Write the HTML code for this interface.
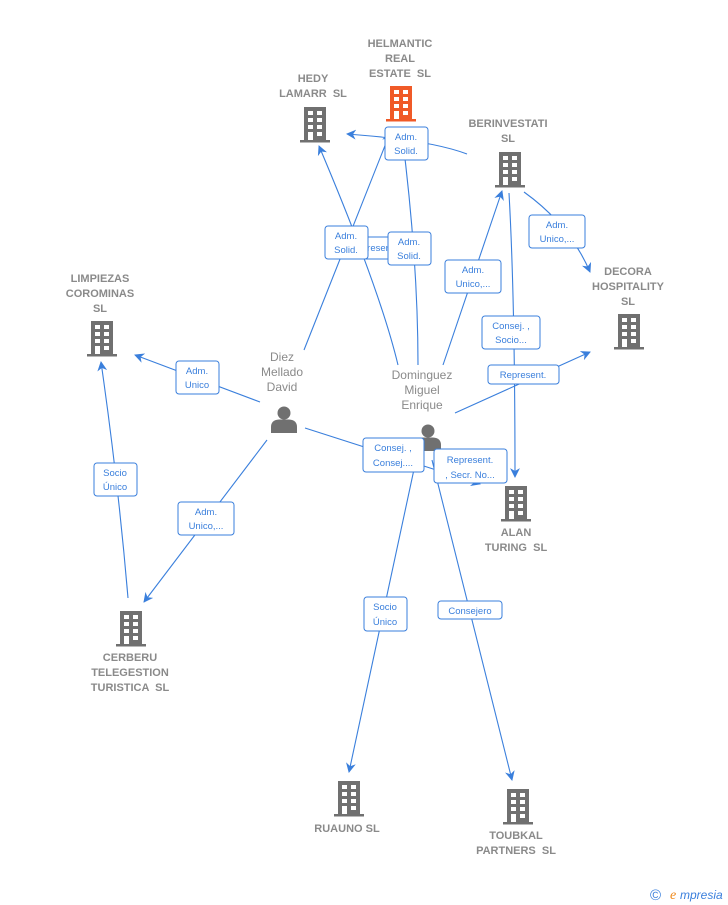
<!DOCTYPE html>
<html><head><meta charset="utf-8"><style>
html,body{margin:0;padding:0;background:#fff;}
svg{display:block;font-family:"Liberation Sans",sans-serif;}
text{white-space:pre;}
.n{font-size:11px;font-weight:bold;fill:#8a8a8a;text-anchor:middle;}
.p{font-size:12px;fill:#8a8a8a;text-anchor:middle;}
.b{fill:#fff;stroke:#3a7fdc;stroke-width:1;}
.t{font-size:9.5px;fill:#3a7fdc;text-anchor:middle;}
.l{stroke:#3a7fdc;stroke-width:1.1;fill:none;}
</style></head><body>
<svg width="728" height="905" viewBox="0 0 728 905">
<defs>
<symbol id="bld" viewBox="0 0 32 36">
<rect x="5" y="0" width="22" height="33" fill="currentColor"/>
<rect x="1" y="33" width="30" height="2.5" fill="currentColor"/>
<g fill="#fff">
<rect x="9" y="4" width="5" height="4"/><rect x="18" y="4" width="5" height="4"/>
<rect x="9" y="11" width="5" height="4"/><rect x="18" y="11" width="5" height="4"/>
<rect x="9" y="18" width="5" height="4"/><rect x="18" y="18" width="5" height="4"/>
<rect x="9" y="25" width="5" height="8"/><rect x="18" y="25" width="5" height="4"/>
</g>
</symbol>
<symbol id="per" viewBox="0 0 28 28">
<circle cx="14" cy="8" r="6.5" fill="currentColor"/>
<path d="M1 28 V22 Q1 15 9 14.5 L19 14.5 Q27 15 27 22 V28 Z" fill="currentColor"/>
</symbol>
<marker id="a" viewBox="0 0 10 10" refX="9" refY="5" markerWidth="9" markerHeight="9" orient="auto-start-reverse"><path d="M0 0 L10 5 L0 10 L3 5 Z" fill="#3a7fdc"/></marker>
</defs>

<g class="l">
<path d="M304 350 L390 133" marker-end="url(#a)"/>
<path d="M398 365 Q380 290 319 146" marker-end="url(#a)"/>
<path d="M418 365 Q418 260 402 134" marker-end="url(#a)"/>
<path d="M467 154 Q430 140 347 134" marker-end="url(#a)"/>
<path d="M443 365 L502 191" marker-end="url(#a)"/>
<path d="M524 192 Q570 225 590 272" marker-end="url(#a)"/>
<path d="M509 193 Q515 300 515 477" marker-end="url(#a)"/>
<path d="M455 413 L590 352" marker-end="url(#a)"/>
<path d="M260 402 L135 355" marker-end="url(#a)"/>
<path d="M128 598 Q118 480 101 362" marker-end="url(#a)"/>
<path d="M267 440 L144 602" marker-end="url(#a)"/>
<path d="M305 428 L480 484" marker-end="url(#a)"/>
<path d="M416 460 L349 772" marker-end="url(#a)"/>
<path d="M432 460 L512 780" marker-end="url(#a)"/>
</g>

<use href="#bld" x="385" y="86" width="32" height="36" style="color:#f05a28"/>
<text class="n" x="400" y="47">HELMANTIC</text><text class="n" x="400" y="62">REAL</text><text class="n" x="400" y="77">ESTATE  SL</text>
<use href="#bld" x="299" y="107" width="32" height="36" style="color:#707070"/>
<text class="n" x="313" y="82">HEDY</text><text class="n" x="313" y="97">LAMARR  SL</text>
<use href="#bld" x="494" y="152" width="32" height="36" style="color:#707070"/>
<text class="n" x="508" y="127">BERINVESTATI</text><text class="n" x="508" y="142">SL</text>
<use href="#bld" x="613" y="314" width="32" height="36" style="color:#707070"/>
<text class="n" x="628" y="275">DECORA</text><text class="n" x="628" y="290">HOSPITALITY</text><text class="n" x="628" y="305">SL</text>
<use href="#bld" x="86" y="321" width="32" height="36" style="color:#707070"/>
<text class="n" x="100" y="282">LIMPIEZAS</text><text class="n" x="100" y="297">COROMINAS</text><text class="n" x="100" y="312">SL</text>
<use href="#bld" x="500" y="486" width="32" height="36" style="color:#707070"/>
<text class="n" x="516" y="536">ALAN</text><text class="n" x="516" y="551">TURING  SL</text>
<use href="#bld" x="115" y="611" width="32" height="36" style="color:#707070"/>
<text class="n" x="130" y="661">CERBERU</text><text class="n" x="130" y="676">TELEGESTION</text><text class="n" x="130" y="691">TURISTICA  SL</text>
<use href="#bld" x="333" y="781" width="32" height="36" style="color:#707070"/>
<text class="n" x="347" y="832">RUAUNO SL</text>
<use href="#bld" x="502" y="789" width="32" height="36" style="color:#707070"/>
<text class="n" x="516" y="839">TOUBKAL</text><text class="n" x="516" y="854">PARTNERS  SL</text>

<use href="#per" x="270" y="405" width="28" height="28" style="color:#707070"/>
<text class="p" x="282" y="361">Diez</text><text class="p" x="282" y="376">Mellado</text><text class="p" x="282" y="391">David</text>
<use href="#per" x="414" y="423" width="28" height="28" style="color:#707070"/>
<text class="p" x="422" y="379">Dominguez</text><text class="p" x="422" y="394">Miguel</text><text class="p" x="422" y="409">Enrique</text>

<rect class="b" x="355" y="237" width="36" height="22" rx="3"/><text class="t" x="373" y="251">Represent.</text>
<rect class="b" x="325" y="226" width="43" height="33" rx="3"/><text class="t" x="346" y="239">Adm.</text><text class="t" x="346" y="253">Solid.</text>
<rect class="b" x="388" y="232" width="43" height="33" rx="3"/><text class="t" x="409" y="245">Adm.</text><text class="t" x="409" y="259">Solid.</text>
<rect class="b" x="385" y="127" width="43" height="33" rx="3"/><text class="t" x="406" y="140">Adm.</text><text class="t" x="406" y="154">Solid.</text>
<rect class="b" x="445" y="260" width="56" height="33" rx="3"/><text class="t" x="473" y="273">Adm.</text><text class="t" x="473" y="287">Unico,...</text>
<rect class="b" x="529" y="215" width="56" height="33" rx="3"/><text class="t" x="557" y="228">Adm.</text><text class="t" x="557" y="242">Unico,...</text>
<rect class="b" x="482" y="316" width="58" height="33" rx="3"/><text class="t" x="511" y="329">Consej. ,</text><text class="t" x="511" y="343">Socio...</text>
<rect class="b" x="488" y="365" width="71" height="19" rx="3"/><text class="t" x="523" y="378">Represent.</text>
<rect class="b" x="176" y="361" width="43" height="33" rx="3"/><text class="t" x="197" y="374">Adm.</text><text class="t" x="197" y="388">Unico</text>
<rect class="b" x="94" y="463" width="43" height="33" rx="3"/><text class="t" x="115" y="476">Socio</text><text class="t" x="115" y="490">Único</text>
<rect class="b" x="178" y="502" width="56" height="33" rx="3"/><text class="t" x="206" y="515">Adm.</text><text class="t" x="206" y="529">Unico,...</text>
<rect class="b" x="434" y="449" width="73" height="34" rx="3"/><text class="t" x="470" y="463">Represent.</text><text class="t" x="470" y="478">, Secr. No...</text>
<rect class="b" x="363" y="438" width="61" height="34" rx="3"/><text class="t" x="393" y="451">Consej. ,</text><text class="t" x="393" y="466">Consej....</text>
<rect class="b" x="364" y="597" width="43" height="34" rx="3"/><text class="t" x="385" y="610">Socio</text><text class="t" x="385" y="625">Único</text>
<rect class="b" x="438" y="601" width="64" height="18" rx="3"/><text class="t" x="470" y="614">Consejero</text>

<text x="650" y="900" font-size="15" fill="#3a7fdc">©</text>
<text x="670" y="899" font-size="14" font-style="italic" fill="#f08a1c" font-family="Liberation Serif,serif">e</text>
<text x="680" y="899" font-size="12" font-style="italic" fill="#3a7fdc">mpresia</text>
</svg>
</body></html>
